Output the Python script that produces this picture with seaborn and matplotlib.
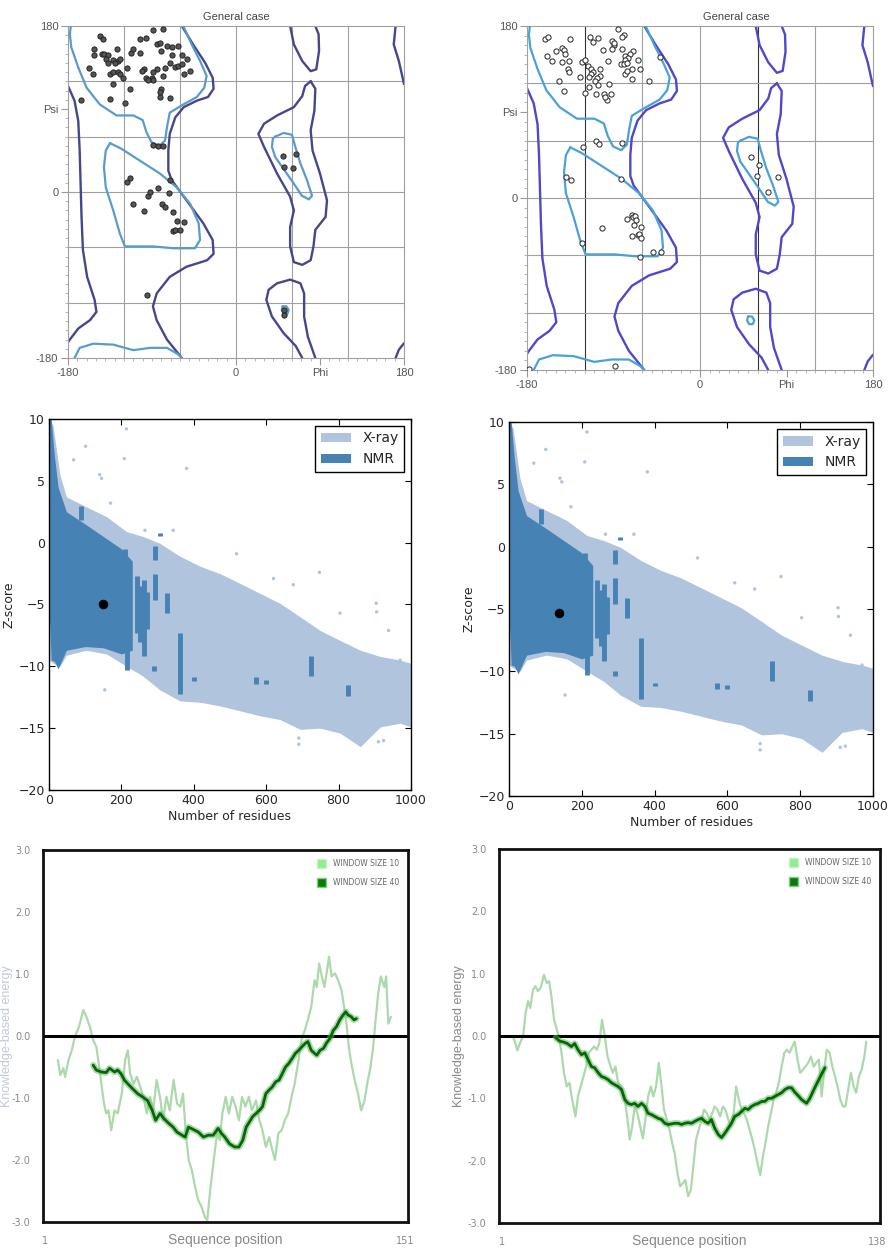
import matplotlib
matplotlib.use("Agg")
import matplotlib.pyplot as plt
import seaborn as sns
from matplotlib.patches import Patch

# ---------------- Ramachandran contours (phi, psi in degrees) ----------------
allowed_left_phi = [-180, -173, -169, -167.5, -166.5, -165.5, -164, -159.5, -151.5, -149.5, -156.5, -169, -178, -180]
allowed_left_psi = [115, 99, 77, 45, 9, -27, -63, -92, -117, -130, -139, -148, -160, -163]
allowed_mid_phi = [-58, -46, -33, -25, -24, -30, -42, -56, -65, -71, -72.5, -72.5, -69, -53, -35, -25, -24, -31, -53, -71, -85, -89, -85, -74, -58]
allowed_mid_psi = [180, 160, 140, 124, 112, 103, 99, 92, 81, 63, 45, 23, 13, -9, -34, -52, -67, -74, -81, -92, -110, -124, -139, -160, -180]
allowed_top_phi = [58, 62, 71, 80, 86, 89, 88.5, 85]
allowed_top_psi = [180, 160, 142, 131, 133, 153, 171, 180]
allowed_bot_phi = [71, 64, 51, 38.5, 32.5, 35, 44, 58, 69, 73, 73, 77, 85]
allowed_bot_psi = [-180, -167, -153, -135, -117, -106, -99, -95, -99, -110, -135, -157, -180]
allowed_aL_phi = [80, 85, 84, 80, 82, 90, 97.5, 96, 85, 83, 80, 71, 62, 58, 58, 62, 58, 44, 30, 24, 30, 44, 62, 71, 74, 80]
allowed_aL_psi = [120, 112, 88, 67, 45, 20, -9, -27, -41, -59, -74, -79, -76, -59, -38, -20, -5, 20, 49, 63, 74, 83, 92, 104, 115, 120]
allowed_tr_phi = [171, 169, 174.5, 180]
allowed_tr_psi = [180, 160, 142, 117]
allowed_br_phi = [180, 174.5, 171]
allowed_br_psi = [-164, -171, -180]

fav_beta_phi = [-177, -178, -176.5, -169, -160, -146, -128, -110, -100, -96, -90.5, -82, -76, -74, -71, -58, -42, -34, -31.5, -38.5, -47.5, -56.5]
fav_beta_psi = [180, 171, 157, 135, 113, 95, 83, 83, 78, 65, 54, 50, 56, 70, 86, 94, 103, 113, 126, 142, 160, 180]
fav_betab_phi = [-173, -167.5, -153, -131.5, -110, -92, -74, -62, -58]
fav_betab_psi = [-180, -169, -164.5, -165.5, -171.5, -169, -169, -176, -180]
fav_aR_phi = [-135, -123, -103, -81.5, -63.5, -49, -40, -38.5, -44, -67, -89, -110, -119, -124.5, -131.5, -139.5, -141.5, -139.5, -135]
fav_aR_psi = [53, 47, 34, 20, 5, -13, -34, -52, -61, -61, -59, -59, -59, -45, -20, 5, 27, 45, 53]
fav_aL_phi = [42, 51, 60, 63.5, 69, 76, 81.5, 78, 70.5, 62, 51, 42, 38.5, 39.5, 42]
fav_aL_psi = [60, 64, 62, 49, 31, 13, -4, -8, -4, 9, 25, 38, 49, 58, 60]
fav_small_phi = [50, 54, 56.5, 55, 51, 49, 50]
fav_small_psi = [-124, -124, -128, -132, -132, -128, -124]

# ---------------- Ramachandran residues ----------------
left_phi = [-146, -142, -152, -144, -141, -137, -152, -139, -128, -132, -126, -130, -137, -124, -157, -153, -135, -132,
            -126, -124, -121, -132, -117, -112, -110, -103, -103, -96, -89, -78, -85, -81, -80, -74, -69, -69, -62, -58,
            -53, -71, -65, -62, -58, -49, -56, -76, -78, -85, -89, -90, -96, -99, -101, -89, -94, -114, -80, -81, -81,
            -71, -135, -166, -119,
            -89, -84, -78, -71, -117, -114, -94, -92, -84, -72, -110, -79, -76, -99, -68, -63, -56, -68, -65, -60,
            -95, 50, 64, 51, 61, 51, 51]
left_psi = [169, 166, 155, 150, 150, 149, 149, 144, 155, 143, 142, 140, 140, 144, 135, 128, 128, 130,
            130, 128, 124, 117, 135, 151, 155, 151, 166, 167, 176, 177, 160, 162, 153, 158, 157, 149, 158, 149,
            144, 140, 136, 137, 139, 131, 128, 135, 126, 133, 130, 124, 124, 133, 131, 121, 121, 112, 112, 108, 103,
            102, 101, 100, 97,
            51, 50, 50, 13, 11, 15, -4, 0, 4, -1, -13, -13, -16, -21, -22, -31, -33, -42, -41, -41,
            -112, 39, 41, 27, 26, -128, -133]
right_phi = [-161, -158, -135, -114, -106, -111, -92, -85, -79, -81, -90, -89, -92, -81, -70, -73, -78, -75, -78, -82,
             -79, -76, -65, -62, -71, -78, -76, -71, -53, -42, -159, -150, -144, -142, -140, -144, -154, -136, -123,
             -120, -117, -137, -136, -113, -111, -104, -113, -116, -125, -104, -107, -109, -96, -101, -147, -142, -120,
             -115, -106, -95, -108, -100, -93, -97, -99,
             -108, -105, -81, -122, -139, -134, -82, -71, -70, -68, -76, -67, -69, -61, -102, -71, -65, -63, -61,
             -123, -49, -41, -62,
             53, 61, 59, 81, 71, -88, -178]
right_psi = [166, 169, 166, 169, 167, 163, 164, 177, 171, 169, 160, 162, 156, 156, 154, 151, 149, 147, 144, 140,
             140, 141, 144, 135, 135, 130, 133, 125, 122, 148, 149, 154, 157, 155, 151, 142, 143, 143, 142,
             144, 138, 135, 132, 135, 132, 135, 130, 127, 127, 128, 126, 122, 143, 155, 122, 112, 110,
             116, 118, 119, 109, 109, 109, 103, 106,
             60, 56, 58, 53, 22, 19, 20, -18, -20, -19, -22, -23, -28, -30, -31, -40, -39, -38, -42,
             -47, -57, -57, -62,
             43, 35, 23, 22, 6, -176, -179]

# ---------------- Z-score database cloud ----------------
xray_x = [0, 11, 30, 48, 103, 159, 214, 260, 306, 362, 417, 472, 528, 583, 638, 694, 749, 804, 860, 915, 970, 1000]
xray_hi = [10, 9.5, 5.5, 3.7, 2.9, 2.1, 0.9, 0.5, -0.05, -1.1, -1.9, -2.5, -3.3, -4.1, -4.9, -6.0, -7.1, -7.9, -8.7, -9.2, -9.5, -9.75]
xray_lo = [-9.5, -9.75, -10, -9.1, -8.7, -9.0, -10.0, -10.8, -11.9, -12.8, -12.9, -13.2, -13.6, -14.0, -14.3, -15.1, -15.0, -15.4, -16.5, -14.9, -14.6, -14.9]
xray_out_x = [214, 101, 208, 68, 380, 140, 145, 170, 265, 343, 518, 620, 747, 675, 904, 905, 804, 938, 970, 154, 910, 924, 690, 690]
xray_out_y = [9.2, 7.8, 6.8, 6.7, 6.0, 5.5, 5.2, 3.2, 1.0, 1.0, -0.9, -2.9, -2.4, -3.4, -4.9, -5.6, -5.7, -7.1, -9.5, -11.9, -16.1, -16.0, -15.8, -16.3]
nmr_x = [0, 6, 15, 25, 48, 100, 150, 200, 230]
nmr_hi = [10, 10, 7, 4.5, 2.5, 1.5, 0.5, -0.5, -1.5]
nmr_lo = [-5.2, -9.5, -9.6, -10.2, -8.7, -8.4, -8.5, -9.0, -8.7]
nmr_streak_x = [88, 186, 210, 215, 242, 252, 262, 270, 292, 292, 325, 362, 290, 401, 571, 599, 723, 827, 306]
nmr_streak_lo = [1.8, -2.2, -2.5, -10.3, -7.3, -8.0, -9.2, -7.0, -1.4, -4.6, -5.7, -12.2, -10.4, -11.2, -11.4, -11.4, -10.8, -12.4, 0.5]
nmr_streak_hi = [3.0, -0.6, -0.5, -8.5, -2.7, -3.5, -3.0, -4.0, -0.3, -2.5, -4.1, -7.3, -10.0, -10.9, -10.9, -11.1, -9.2, -11.5, 0.8]
query_left = (149, -5.0)
query_right = (136, -5.3)

# ---------------- Energy profiles ----------------
e1_w10_pos = [6.2, 7.2, 8.5, 9.2, 10.6, 12.0, 13.3, 15.0, 16.8, 18.1, 19.5, 20.9, 22.2, 23.2, 24.3, 25.4, 26.3, 27.3, 28.4,
              29.8, 31.1, 32.8, 34.2, 35.3, 36.3, 37.7, 39.1, 40.5, 41.8, 43.2, 44.6, 45.9, 47.3, 48.7, 50.0, 51.4, 52.8,
              54.4, 55.8, 57.2, 58.3, 59.6, 60.7, 62.0, 63.3, 64.7, 66.1, 67.4, 68.4, 69.8, 71.1, 72.5, 73.6, 74.7, 76.1,
              77.4, 78.8, 80.2, 81.6, 82.9, 84.3, 85.7, 87.0, 88.7, 90.1, 91.4, 92.8, 94.2, 95.5, 96.6, 98.0, 99.4, 100.7,
              102.1, 103.5, 104.8, 106.2, 107.6, 109.0, 110.3, 111.7, 113.1, 114.0, 115.0, 116.1, 117.2, 118.1, 119.1,
              120.2, 121.6, 122.9, 124.3, 125.4, 126.4, 127.3, 128.4, 129.8, 131.2, 132.5, 133.9, 135.3, 136.4, 137.5,
              138.5, 139.6, 140.7, 142.1, 142.9, 143.8, 144.9]
e1_w10_val = [-0.39, -0.63, -0.52, -0.66, -0.39, -0.23, -0.01, 0.15, 0.42, 0.31, 0.15, -0.07, -0.17, -0.44, -0.77, -1.09,
              -1.25, -1.20, -1.52, -1.20, -1.25, -0.93, -0.39, -0.23, -0.61, -0.77, -0.66, -0.82, -0.98, -1.25, -0.98,
              -1.20, -0.71, -0.98, -1.36, -0.98, -1.20, -0.71, -1.09, -1.14, -0.93, -1.63, -2.00, -2.17, -2.43, -2.65,
              -2.76, -2.92, -2.97, -2.43, -2.00, -1.57, -1.68, -1.25, -0.98, -1.25, -0.98, -1.14, -1.36, -0.98, -1.14,
              -0.98, -1.20, -1.04, -1.36, -1.52, -1.79, -1.63, -1.84, -2.00, -1.57, -1.52, -1.36, -1.25, -0.98, -0.77,
              -0.44, -0.07, 0.09, 0.26, 0.47, 0.90, 0.79, 1.17, 0.96, 0.79, 1.01, 1.28, 0.96, 1.01, 0.90, 0.74, 0.47,
              0.20, -0.17, -0.44, -0.71, -0.93, -1.20, -1.04, -0.71, -0.50, -0.17, 0.26, 0.69, 0.96, 0.79, 0.96, 0.20,
              0.31]
e1_w40_pos = [20.9, 22.2, 24.3, 26.3, 27.7, 29.8, 31.1, 32.5, 33.9, 35.3, 37.3, 39.4, 41.4, 43.5, 45.5, 46.9, 48.7, 50.3,
              52.4, 54.2, 55.8, 57.9, 59.2, 60.6, 62.7, 64.7, 66.8, 68.8, 70.9, 72.9, 74.3, 75.7, 77.7, 79.8, 81.6, 83.2,
              84.6, 85.9, 87.3, 88.7, 90.1, 91.4, 92.8, 94.2, 95.5, 96.9, 98.3, 99.6, 101.0, 102.4, 103.8, 105.1, 106.5,
              107.9, 109.2, 110.3, 111.7, 113.1, 114.0, 115.4, 116.8, 118.1, 119.5, 120.9, 122.2, 123.6, 125.0, 126.1,
              127.0, 128.4, 129.5, 130.5]
e1_w40_val = [-0.47, -0.55, -0.58, -0.59, -0.52, -0.58, -0.55, -0.61, -0.71, -0.77, -0.85, -0.93, -0.98, -1.04, -1.20,
              -1.36, -1.25, -1.33, -1.41, -1.47, -1.55, -1.60, -1.63, -1.47, -1.51, -1.55, -1.63, -1.60, -1.60, -1.49,
              -1.57, -1.63, -1.74, -1.79, -1.79, -1.68, -1.47, -1.39, -1.30, -1.25, -1.20, -1.14, -0.93, -0.87, -0.82,
              -0.74, -0.71, -0.61, -0.50, -0.44, -0.36, -0.28, -0.23, -0.17, -0.12, -0.09, -0.23, -0.28, -0.31, -0.23,
              -0.20, -0.11, -0.04, 0.09, 0.15, 0.26, 0.34, 0.39, 0.34, 0.31, 0.26, 0.28]

e2_w10_pos = [5.1, 6.0, 6.7, 7.7, 8.8, 9.7, 10.6, 11.4, 12.4, 13.3, 14.2, 15.2, 16.4, 17.4, 18.3, 19.1, 20.1, 21.1, 21.9,
              22.8, 23.7, 24.7, 25.7, 26.7, 27.9, 28.8, 29.8, 30.8, 31.8, 32.7, 33.7, 34.7, 35.7, 36.6, 37.6, 38.6, 39.6,
              40.5, 41.5, 42.5, 43.4, 44.7, 45.9, 46.9, 47.7, 48.6, 49.5, 50.5, 51.5, 52.5, 53.4, 54.4, 55.4, 56.3, 57.3,
              58.3, 59.3, 60.2, 61.2, 62.2, 63.2, 64.1, 65.1, 66.1, 67.1, 68.0, 69.0, 70.0, 71.0, 71.9, 72.9, 73.9, 74.8,
              75.8, 76.8, 77.8, 78.7, 79.7, 80.7, 81.7, 82.6, 83.6, 84.6, 85.6, 86.5, 87.5, 88.5, 89.4, 90.4, 91.4, 92.4,
              93.3, 94.3, 95.3, 96.3, 97.2, 98.2, 99.2, 100.2, 101.1, 102.1, 103.1, 104.1, 105.0, 106.0, 107.0, 107.9,
              108.9, 109.9, 110.9, 111.8, 112.8, 113.8, 114.8, 115.7, 116.7, 117.7, 118.7, 119.6, 120.6, 121.6, 122.6,
              123.5, 124.5, 125.5, 126.4, 127.4, 128.4, 129.4, 130.3, 131.3, 132.3, 133.3, 134.0]
e2_w10_val = [-0.01, -0.12, -0.23, -0.11, 0.0, 0.37, 0.56, 0.45, 0.74, 0.80, 0.72, 0.77, 0.98, 0.85, 0.88, 0.64, 0.26, 0.10,
              -0.01, -0.27, -0.59, -0.81, -0.75, -1.02, -1.29, -0.97, -0.81, -0.65, -0.49, -0.27, -0.22, -0.17, -0.22,
              -0.11, 0.26, -0.01, -0.33, -0.46, -0.59, -0.49, -0.75, -0.81, -1.02, -1.34, -1.66, -1.45, -1.13, -1.24,
              -1.45, -1.64, -1.34, -0.97, -0.81, -0.97, -0.81, -0.43, -0.81, -1.18, -1.34, -1.50, -1.72, -1.88, -2.20,
              -2.41, -2.36, -2.31, -2.57, -2.47, -2.04, -1.66, -1.50, -1.34, -1.18, -1.24, -1.34, -1.24, -1.13, -1.18,
              -1.29, -1.13, -1.18, -1.34, -1.45, -1.24, -0.81, -1.02, -1.18, -1.24, -1.34, -1.50, -1.66, -1.82, -2.04,
              -2.23, -1.93, -1.72, -1.45, -1.24, -1.02, -0.91, -0.75, -0.49, -0.27, -0.22, -0.27, -0.17, -0.09, -0.38,
              -0.59, -0.54, -0.49, -0.43, -0.33, -0.49, -0.43, -0.38, -0.97, -0.54, -0.22, -0.27, -0.49, -0.65, -0.81,
              -1.02, -1.13, -1.13, -0.86, -0.59, -0.81, -0.91, -0.65, -0.54, -0.33, -0.09]
e2_w40_pos = [20.7, 22.1, 23.7, 24.9, 26.4, 27.6, 28.8, 30.1, 31.3, 32.5, 33.7, 34.9, 36.2, 37.4, 38.6, 39.8, 41.0, 42.2,
              43.4, 44.7, 45.9, 47.1, 48.3, 49.5, 50.7, 52.0, 53.2, 54.4, 55.6, 56.8, 58.0, 59.3, 60.5, 61.7, 62.9, 64.1,
              65.4, 66.6, 67.8, 69.0, 70.2, 71.4, 72.7, 73.9, 75.1, 76.3, 77.5, 78.7, 80.0, 81.2, 82.4, 83.6, 84.8, 86.0,
              87.3, 88.5, 89.7, 90.9, 92.1, 93.3, 94.6, 95.8, 97.0, 98.2, 99.4, 100.6, 101.9, 103.1, 104.3, 105.5, 106.7,
              107.9, 109.2, 110.4, 112.2, 113.4, 115.2, 117.0, 118.9]
e2_w40_val = [-0.03, -0.08, -0.10, -0.12, -0.17, -0.12, -0.22, -0.30, -0.27, -0.38, -0.49, -0.51, -0.59, -0.65, -0.67,
              -0.70, -0.75, -0.78, -0.81, -0.86, -1.02, -1.08, -1.10, -1.08, -1.13, -1.08, -1.13, -1.24, -1.26, -1.29,
              -1.32, -1.34, -1.40, -1.42, -1.41, -1.40, -1.40, -1.42, -1.40, -1.39, -1.40, -1.37, -1.34, -1.32, -1.37,
              -1.40, -1.34, -1.48, -1.58, -1.63, -1.56, -1.48, -1.40, -1.29, -1.26, -1.21, -1.16, -1.18, -1.13, -1.10,
              -1.08, -1.05, -1.05, -1.00, -1.00, -0.97, -0.94, -0.91, -0.86, -0.83, -0.83, -0.90, -0.96, -1.02, -1.08,
              -1.00, -0.83, -0.67, -0.51]
e1_last = 151
e2_last = 138
ticks_energy = [-3, -2, -1, 0, 1, 2, 3]

# ---------------- figure ----------------
sns.set_style("white")
plt.rcParams['font.family'] = ['DejaVu Sans']
fig = plt.figure(figsize=(8.9, 12.57), dpi=100)
W, H = 890.0, 1257.0


def box(l, r, t, b):
    return [l / W, 1 - b / H, (r - l) / W, (b - t) / H]


allowed = [(allowed_left_phi, allowed_left_psi), (allowed_mid_phi, allowed_mid_psi),
           (allowed_top_phi, allowed_top_psi), (allowed_bot_phi, allowed_bot_psi),
           (allowed_aL_phi, allowed_aL_psi), (allowed_tr_phi, allowed_tr_psi), (allowed_br_phi, allowed_br_psi)]
favoured = [(fav_beta_phi, fav_beta_psi), (fav_betab_phi, fav_betab_psi), (fav_aR_phi, fav_aR_psi),
            (fav_aL_phi, fav_aL_psi), (fav_small_phi, fav_small_psi)]


def rama(ax, phis, psis, dark, light, face, strong, title_phi):
    ax.set_xlim(-180, 180)
    ax.set_ylim(-180, 180)
    for g in [-120, -60, 0, 60, 120]:
        ax.axvline(g, color='#333333' if g in strong else '#a0a0a0', lw=0.8, zorder=0)
        ax.axhline(g, color='#a0a0a0', lw=0.8, zorder=0)
    for ph, ps in allowed:
        sns.lineplot(x=ph, y=ps, sort=False, estimator=None, color=dark, lw=1.7, ax=ax, zorder=2)
    for ph, ps in favoured:
        sns.lineplot(x=ph, y=ps, sort=False, estimator=None, color=light, lw=1.6, ax=ax, zorder=3)
    sns.scatterplot(x=phis, y=psis, ax=ax, s=14, color=face, edgecolor='#222222', linewidth=0.7, zorder=5)
    for sp in ax.spines.values():
        sp.set_color('#a0a0a0')
        sp.set_linewidth(0.8)
    ax.set_xticks([-180, 0, 90, 180])
    ax.set_xticklabels(['-180', '0', 'Phi', '180'])
    ax.set_yticks([-180, 0, 90, 180])
    ax.set_yticklabels(['-180', '0', 'Psi', '180'])
    ax.set_xticks(range(-180, 181, 10), minor=True)
    ax.set_yticks(range(-180, 181, 10), minor=True)
    ax.tick_params(which='major', length=5, color='#999999', labelsize=8, labelcolor='#555555',
                   bottom=True, left=True, direction='out', pad=2)
    ax.tick_params(which='minor', length=2.5, color='#aaaaaa', bottom=True, left=True, direction='out')
    ax.set_xlabel('')
    ax.set_ylabel('')
    ax.text(title_phi, 184, 'General case', ha='center', va='bottom', fontsize=8, color='#444444',
            family=['Liberation Sans', 'DejaVu Sans'])
    for lab in ax.get_xticklabels() + ax.get_yticklabels():
        lab.set_family(['Liberation Sans', 'DejaVu Sans'])


ax1 = fig.add_axes(box(68, 404, 26, 358))
rama(ax1, left_phi, left_psi, '#45478a', '#5b9bcc', '#555555', [], 0)
ax2 = fig.add_axes(box(527, 873, 26, 370))
rama(ax2, right_phi, right_psi, '#5147c8', '#4aa2d8', 'white', [-120, 60], 38)


def zplot(ax, q):
    ax.fill_between(xray_x, xray_lo, xray_hi, color='#b0c4de', lw=0, zorder=1)
    sns.scatterplot(x=xray_out_x, y=xray_out_y, ax=ax, s=6, color='#b0c4de', edgecolor='none', zorder=1)
    ax.fill_between(nmr_x, nmr_lo, nmr_hi, color='#4682b4', lw=0, zorder=2)
    ax.vlines(nmr_streak_x, nmr_streak_lo, nmr_streak_hi, color='#4682b4', lw=3.5, zorder=2)
    sns.scatterplot(x=[q[0]], y=[q[1]], ax=ax, s=40, color='black', edgecolor='black', zorder=5)
    ax.set_xlim(0, 1000)
    ax.set_ylim(-20, 10)
    ax.set_xticks([0, 200, 400, 600, 800, 1000])
    ax.set_yticks([-20, -15, -10, -5, 0, 5, 10])
    ax.tick_params(direction='in', length=4, top=True, right=True, bottom=True, left=True,
                   labelsize=9, color='black', pad=3)
    for sp in ax.spines.values():
        sp.set_color('black')
        sp.set_linewidth(1.0)
    ax.set_xlabel('Number of residues', fontsize=9, labelpad=2)
    ax.set_ylabel('Z-score', fontsize=9, labelpad=2)
    handles = [Patch(facecolor='#b0c4de', edgecolor='none'), Patch(facecolor='#4682b4', edgecolor='none')]
    leg = ax.legend(handles, ['X-ray', 'NMR'], loc='upper right', fontsize=10, fancybox=False,
                    framealpha=1, edgecolor='black', handlelength=2.2, borderaxespad=0.5)
    leg.get_frame().set_linewidth(1.0)


ax3 = fig.add_axes(box(49, 411, 419, 790))
zplot(ax3, query_left)
ax4 = fig.add_axes(box(509, 873, 422, 796))
zplot(ax4, query_right)


def eplot(ax, p10, v10, p40, v40, last, ylab_color, ylab_pad):
    sns.lineplot(x=p10, y=v10, sort=False, estimator=None, color='#acd9ac', lw=1.6, ax=ax, zorder=1)
    ax.axhline(0, color='black', lw=2.2, zorder=2)
    sns.lineplot(x=p40, y=v40, sort=False, estimator=None, color='#5cc05c', lw=4.5, alpha=0.55, ax=ax, zorder=3)
    sns.lineplot(x=p40, y=v40, sort=False, estimator=None, color='#0a640a', lw=2.0, ax=ax, zorder=4)
    ax.set_xlim(0, last + 1)
    ax.set_ylim(-3, 3)
    ax.set_yticks(ticks_energy)
    ax.set_yticklabels(['%.1f' % v for v in ticks_energy])
    ax.set_xticks([1, last])
    ax.set_xticklabels(['1', str(last)])
    ax.tick_params(length=0, labelsize=7, labelcolor='#888888')
    ax.tick_params(axis='y', pad=9)
    ax.tick_params(axis='x', pad=10)
    for sp in ax.spines.values():
        sp.set_color('#111111')
        sp.set_linewidth(2.0)
    ax.set_xlabel('Sequence position', fontsize=10, color='#888888', labelpad=-9,
                  family=['Liberation Sans', 'DejaVu Sans'])
    ax.set_ylabel('Knowledge-based energy', fontsize=9, color=ylab_color, labelpad=ylab_pad,
                  family=['Liberation Sans', 'DejaVu Sans'])
    handles = [Patch(facecolor='#90ee90', edgecolor='#c8f0c8'), Patch(facecolor='#0b7a0b', edgecolor='#7ccf7c')]
    ax.legend(handles, ['WINDOW SIZE 10', 'WINDOW SIZE 40'], loc='upper right', fontsize=5.5,
              labelcolor='#666666', frameon=False, handlelength=1.3, handleheight=1.4,
              labelspacing=1.3, borderaxespad=0.8)


ax5 = fig.add_axes(box(43, 408, 850, 1222))
eplot(ax5, e1_w10_pos, e1_w10_val, e1_w40_pos, e1_w40_val, e1_last, '#c0c8d8', -1)
ax6 = fig.add_axes(box(499, 880, 849, 1223))
eplot(ax6, e2_w10_pos, e2_w10_val, e2_w40_pos, e2_w40_val, e2_last, '#888888', 2)

fig.savefig('out.png', dpi=100)
